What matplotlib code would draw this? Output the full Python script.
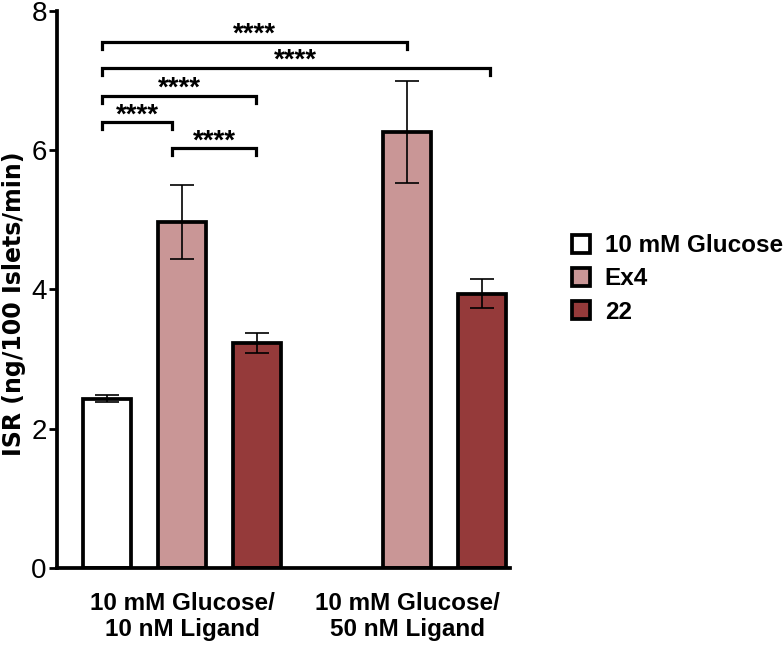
import matplotlib
matplotlib.use("Agg")
import matplotlib.pyplot as plt
from matplotlib.patches import Patch

plt.rcParams['font.family'] = ['Liberation Sans', 'DejaVu Sans']

# ── data ────────────────────────────────────────────────────────────────────
series = ["10 mM Glucose", "Ex4", "22"]
colors = ["#FFFFFF", "#C99696", "#953A3A"]
positions = [0, 1, 2, 4, 5]
bar_series = [0, 1, 2, 1, 2]
means = [2.43, 4.97, 3.23, 6.26, 3.94]
errs = [0.05, 0.53, 0.14, 0.73, 0.21]
group_labels = ["10 mM Glucose/\n10 nM Ligand", "10 mM Glucose/\n50 nM Ligand"]
group_pos = [1, 4]

# significance brackets: (left bar, right bar, height)
brackets = [(0, 4, 7.56), (0, 5, 7.18), (0, 2, 6.78), (0, 1, 6.40), (1, 2, 6.03)]
bracket_x = {0: -0.07, 1: 0.87, 2: 1.99, 4: 4.0, 5: 5.1}
stars = "****"

fig = plt.figure(figsize=(7.84, 6.45), dpi=100)
ax = fig.add_axes([0.0727, 0.1194, 0.5778, 0.8636])

for p, s, m, e in zip(positions, bar_series, means, errs):
    ax.bar(p, m, width=0.64, color=colors[s], edgecolor="black", linewidth=2.7, zorder=2)
    ax.errorbar(p, m, yerr=e, fmt="none", ecolor="black", elinewidth=1.2,
                capsize=8.5, capthick=1.2, zorder=3)

tick_drop = 0.10
for a, b, h in brackets:
    xa, xb = bracket_x[a], bracket_x[b]
    ax.plot([xa, xa, xb, xb], [h - tick_drop, h, h, h - tick_drop],
            color="black", lw=2.3, solid_joinstyle="miter", clip_on=False, zorder=4)
    ax.text((xa + xb) / 2, h, stars, ha="center", va="baseline",
            fontsize=20, fontweight="bold")

ax.set_xlim(-0.667, 5.37)
ax.set_ylim(0, 8)
ax.set_yticks([0, 2, 4, 6, 8])
ax.tick_params(axis="y", labelsize=20, width=2, length=5.8, pad=1.5)
ax.set_xticks(group_pos)
ax.set_xticklabels(group_labels, fontsize=17.5, fontweight="bold", linespacing=1.2)
ax.tick_params(axis="x", length=0, pad=17)
ax.set_ylabel("ISR (ng/100 Islets/min)", fontsize=17, fontweight="bold",
              family=["DejaVu Sans"])
ax.yaxis.set_label_coords(-0.069, 0.474)

for side in ["top", "right"]:
    ax.spines[side].set_visible(False)
for side in ["left", "bottom"]:
    ax.spines[side].set_linewidth(2.7)

handles = [Patch(facecolor=c, edgecolor="black", linewidth=2.7) for c in colors]
fig.legend(handles, series, loc="upper left", bbox_to_anchor=(0.7296, 0.637),
           frameon=False, borderpad=0, borderaxespad=0,
           prop={"weight": "bold", "size": 17.5},
           handlelength=0.75, handleheight=0.75, handletextpad=0.6, labelspacing=0.42)

fig.savefig("out.png", dpi=100)
